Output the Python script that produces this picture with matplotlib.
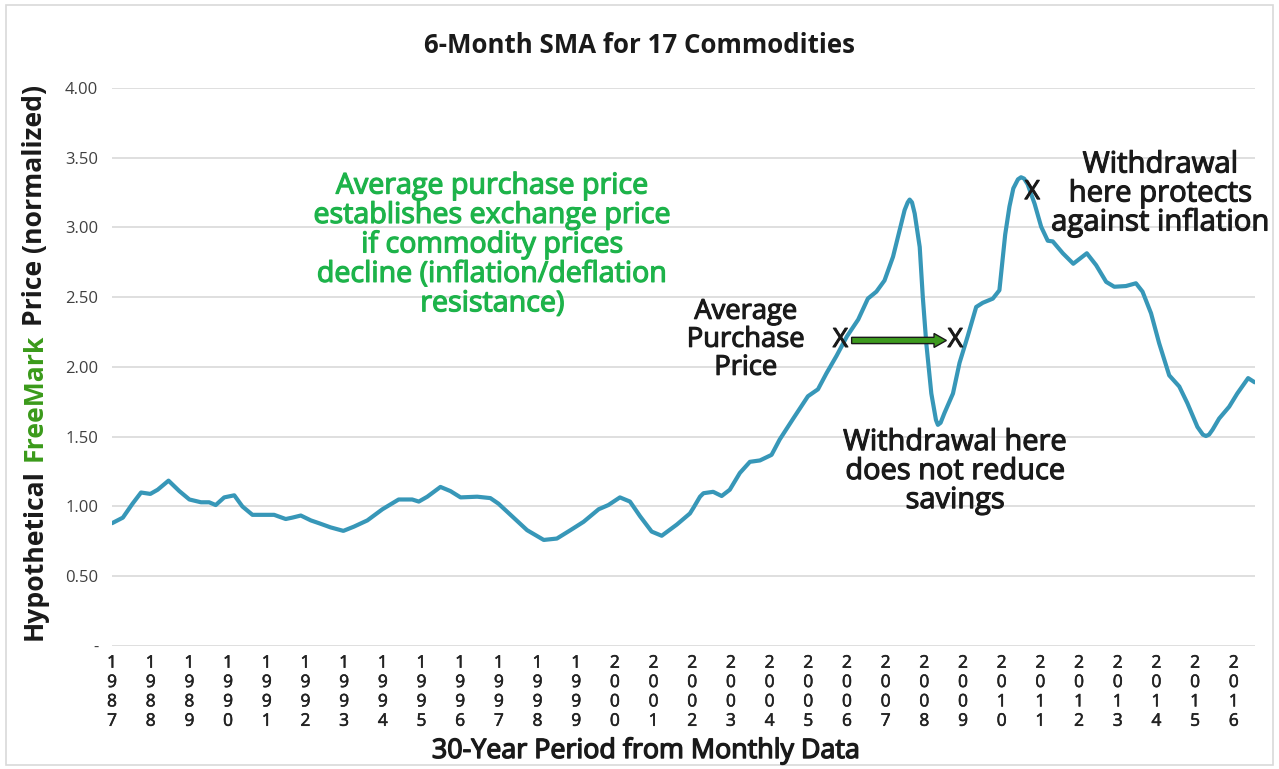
import matplotlib
matplotlib.use('Agg')
import matplotlib.pyplot as plt
import matplotlib.patheffects as pe
from matplotlib.patches import Rectangle

plt.rcParams['font.family'] = ['Open Sans', 'DejaVu Sans']

# 6-month SMA (decimal year, normalized price)
years = [1987.00, 1987.28, 1987.53, 1987.75, 1987.99, 1988.18, 1988.46, 1988.74,
         1989.00, 1989.30, 1989.51, 1989.68, 1989.90, 1990.16, 1990.37, 1990.63,
         1991.19, 1991.49, 1991.66, 1991.88, 1992.14, 1992.35, 1992.65, 1992.98,
         1993.25, 1993.60, 1993.99, 1994.41, 1994.76, 1994.93, 1995.15, 1995.49,
         1995.75, 1996.01, 1996.44, 1996.78, 1996.99, 1997.34, 1997.73, 1998.16,
         1998.50, 1998.85, 1999.19, 1999.58, 1999.83, 2000.13, 2000.39, 2000.65,
         2000.95, 2001.21, 2001.60, 2001.94, 2002.03, 2002.20, 2002.29, 2002.54,
         2002.76, 2002.97, 2003.23, 2003.49, 2003.75, 2004.05, 2004.26, 2004.61,
         2004.99, 2005.25, 2005.47, 2005.73, 2006.00, 2006.29, 2006.54, 2006.76,
         2006.97, 2007.19, 2007.36, 2007.49, 2007.57, 2007.62, 2007.68, 2007.75,
         2007.88, 2007.96, 2008.05, 2008.18, 2008.30, 2008.35, 2008.42, 2008.52,
         2008.74, 2008.91, 2009.12, 2009.34, 2009.51, 2009.77, 2009.94, 2010.09,
         2010.20, 2010.30, 2010.42, 2010.50, 2010.58, 2010.67, 2010.85, 2011.02,
         2011.19, 2011.32, 2011.58, 2011.85, 2012.20, 2012.44, 2012.70, 2012.91,
         2013.21, 2013.47, 2013.64, 2013.86, 2014.07, 2014.33, 2014.59, 2014.80,
         2015.06, 2015.20, 2015.28, 2015.36, 2015.45, 2015.62, 2015.88, 2016.09,
         2016.37, 2016.54]
sma = [0.88, 0.92, 1.02, 1.10, 1.09, 1.12, 1.185, 1.11,
       1.05, 1.03, 1.03, 1.01, 1.065, 1.08, 1.00, 0.94,
       0.94, 0.91, 0.92, 0.935, 0.90, 0.88, 0.85, 0.825,
       0.855, 0.90, 0.98, 1.05, 1.05, 1.035, 1.07, 1.14,
       1.11, 1.065, 1.07, 1.06, 1.02, 0.93, 0.83, 0.76,
       0.77, 0.83, 0.89, 0.98, 1.01, 1.065, 1.035, 0.93,
       0.82, 0.79, 0.87, 0.95, 0.99, 1.07, 1.095, 1.105,
       1.075, 1.12, 1.24, 1.32, 1.33, 1.37, 1.48, 1.63,
       1.79, 1.84, 1.955, 2.08, 2.22, 2.34, 2.49, 2.54,
       2.62, 2.79, 2.98, 3.125, 3.18, 3.20, 3.18, 3.10,
       2.86, 2.50, 2.17, 1.81, 1.62, 1.585, 1.60, 1.67,
       1.81, 2.03, 2.22, 2.43, 2.46, 2.49, 2.55, 2.95,
       3.15, 3.28, 3.345, 3.36, 3.35, 3.31, 3.17, 3.005,
       2.905, 2.90, 2.815, 2.74, 2.815, 2.73, 2.61, 2.575,
       2.58, 2.60, 2.54, 2.385, 2.17, 1.94, 1.86, 1.74,
       1.57, 1.515, 1.505, 1.515, 1.55, 1.63, 1.715, 1.81,
       1.92, 1.89]

tick_years = list(range(1987, 2017))
y_ticks = [0, 0.5, 1.0, 1.5, 2.0, 2.5, 3.0, 3.5, 4.0]
y_labels = ['-', '0.50', '1.00', '1.50', '2.00', '2.50', '3.00', '3.50', '4.00']

# marked points and arrow (year, price)
buy_x, buy_y = 2005.83, 2.19
sell_low_x = 2008.80
sell_high_x, sell_high_y = 2010.79, 3.25

LINE = '#3797b8'
GREEN_TXT = '#1db34a'
GREEN_LBL = '#3a9a1a'
DARK = '#1a1a1a'


def heavy(color, w=0.7):
    # fake a medium weight by stroking the glyphs
    return [pe.withStroke(linewidth=w, foreground=color)]


fig = plt.figure(figsize=(12.79, 7.69), dpi=100)
fig.patches.append(Rectangle((0.005, 0.005), 0.99, 0.988, transform=fig.transFigure,
                             fill=False, edgecolor='#d9d9d9', linewidth=1.2))
ax = fig.add_axes([0.0876, 0.16, 0.8937, 0.7256])

ax.plot(years, sma, color=LINE, linewidth=3, solid_joinstyle='round',
        solid_capstyle='round', zorder=3)

ax.set_xlim(1987.0, 2016.55)
ax.set_ylim(0, 4.0)
ax.set_yticks(y_ticks)
ax.set_yticklabels(y_labels, fontsize=12, color='#404040')
ax.set_xticks(tick_years)
ax.set_xticklabels(['\n'.join(str(y)) for y in tick_years], fontsize=12.5,
                   color='#222222', linespacing=1.28)
for lbl in ax.get_xticklabels():
    lbl.set_path_effects(heavy('#222222', 0.4))
ax.tick_params(length=0, pad=10)
ax.tick_params(axis='x', pad=7)
for s in ax.spines.values():
    s.set_visible(False)
ax.grid(axis='y', color='#d9d9d9', linewidth=1.2)
ax.set_axisbelow(True)

fig.canvas.draw()
renderer = fig.canvas.get_renderer()


def fit(t, width_px):
    # scale the font so the widest line matches the width measured on the reference
    w = t.get_window_extent(renderer).width
    t.set_fontsize(t.get_fontsize() * width_px / w)


title = fig.text(0.5, 0.941, '6-Month SMA for 17 Commodities', ha='center', va='center',
                 fontsize=17, fontweight='bold', color=DARK)
fit(title, 430)
xlab = fig.text(646 / 1279, 1 - 751 / 769, '30-Year Period from Monthly Data', ha='center',
                va='center', fontsize=16, color=DARK, path_effects=heavy(DARK, 1.0))
fit(xlab, 428)

# y label with a green middle word
parts = [('Hypothetical', DARK), ('FreeMark', GREEN_LBL), ('Price (normalized)', DARK)]
gap = 8
ylab = [fig.text(35 / 1279, 0, txt, rotation=90, rotation_mode='anchor', ha='left',
                 va='center', fontsize=17, fontweight='bold', color=col) for txt, col in parts]
total = sum(t.get_window_extent(renderer).height for t in ylab)
scale = (555 - gap * (len(ylab) - 1)) / total
ypix = 769 - 640
for t in ylab:
    t.set_fontsize(t.get_fontsize() * scale)
    t.set_y(ypix / 769)
    ypix += t.get_window_extent(renderer).height + gap

green = ax.text(1996.84, 2.875, 'Average purchase price\nestablishes exchange price\n'
                'if commodity prices\ndecline (inflation/deflation\nresistance)',
                ha='center', va='center', multialignment='center', fontsize=17,
                color=GREEN_TXT, linespacing=1.02, path_effects=heavy(GREEN_TXT, 0.9))
fit(green, 358)
notes = [(2003.38, 2.195, 'Average\nPurchase\nPrice', 118),
         (2008.80, 1.25, 'Withdrawal here\ndoes not reduce\nsavings', 224),
         (2014.10, 3.24, 'Withdrawal\nhere protects\nagainst inflation', 218)]
for nx, ny, txt, w in notes:
    t = ax.text(nx, ny, txt, ha='center', va='center', multialignment='center',
                fontsize=17, color=DARK, linespacing=1.0, path_effects=heavy(DARK, 0.8))
    fit(t, w)

for xx, yy in [(buy_x, buy_y), (sell_low_x, buy_y), (sell_high_x, sell_high_y)]:
    ax.text(xx, yy, 'X', ha='center', va='center', fontsize=19, color=DARK, zorder=5,
            path_effects=heavy(DARK, 0.8))

ax.arrow(buy_x + 0.29, buy_y, sell_low_x - buy_x - 0.52, 0, width=0.045, head_width=0.1,
         head_length=0.32, length_includes_head=True, facecolor='#3d9a1e',
         edgecolor=DARK, linewidth=1, zorder=4)

fig.savefig('out.png', dpi=100)
